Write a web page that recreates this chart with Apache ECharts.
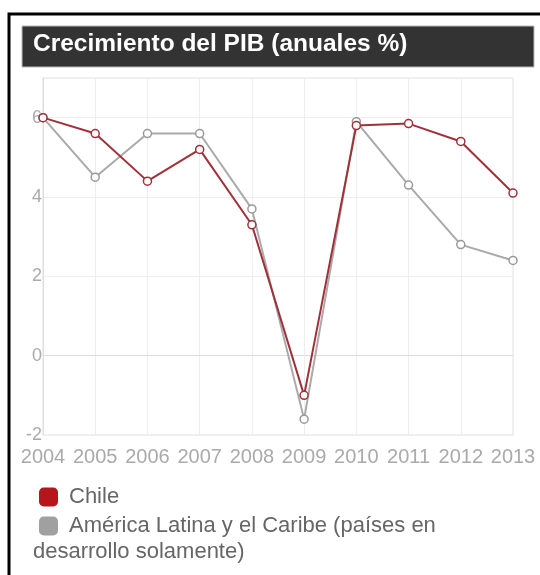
<!DOCTYPE html>
<html>
<head>
<meta charset="utf-8">
<script src="https://cdn.jsdelivr.net/npm/echarts@6/dist/echarts.min.js"></script>
<style>
html,body{margin:0;padding:0;background:#fff;}
#chart{width:540px;height:575px;}
</style>
</head>
<body>
<div id="chart"></div>
<script>
const years = ['2004','2005','2006','2007','2008','2009','2010','2011','2012','2013'];
const chile = [6.0, 5.6, 4.4, 5.2, 3.3, -1.0, 5.8, 5.85, 5.4, 4.1];
const latam = [6.0, 4.5, 5.6, 5.6, 3.7, -1.6, 5.9, 4.3, 2.8, 2.4];
const yTicks = [-2, 0, 2, 4, 6];
const titleText = 'Crecimiento del PIB (anuales %)';
const chileName = 'Chile';
const latamName = 'América Latina y el Caribe (países en desarrollo solamente)';
const latamLine1 = 'América Latina y el Caribe (países en';
const latamLine2 = 'desarrollo solamente)';

const chart = echarts.init(document.getElementById('chart'));
const FONT = 'Liberation Sans, Arial, sans-serif';
chart.setOption({
  animation: false,
  backgroundColor: '#fff',
  title: {
    text: titleText,
    left: 33, top: 32,
    padding: 0,
    textStyle: {color: '#fff', fontSize: 24.5, fontWeight: 'bold', fontFamily: FONT}
  },
  graphic: [
    {type: 'rect', z: -10, shape: {x: 9, y: 14, width: 560, height: 600},
     style: {fill: '#fff', stroke: '#000', lineWidth: 3}},
    {type: 'rect', z: -5, shape: {x: 22, y: 26, width: 512, height: 41},
     style: {fill: '#333', stroke: '#bbb', lineWidth: 1}},
    {type: 'text', left: 33, top: 541,
     style: {text: latamLine2, fill: '#666', fontSize: 22, fontFamily: FONT}}
  ],
  legend: {
    orient: 'vertical',
    left: 34, top: 481,
    itemWidth: 19, itemHeight: 19, itemGap: 7,
    icon: 'roundRect',
    textStyle: {color: '#666', fontSize: 22, fontFamily: FONT, padding: [0, 0, 0, 6]},
    formatter: function (n) { return n === latamName ? latamLine1 : n; },
    data: [
      {name: chileName, itemStyle: {color: '#b8141c', borderWidth: 0}},
      {name: latamName, itemStyle: {color: '#a0a0a0', borderWidth: 0}}
    ]
  },
  grid: {left: 43, right: 27, top: 78, bottom: 140, show: true, borderColor: '#e0e0e0', borderWidth: 1},
  xAxis: {
    type: 'category', data: years, boundaryGap: false,
    axisLine: {lineStyle: {color: '#ddd'}},
    axisTick: {show: false},
    axisLabel: {color: '#aaa', fontSize: 20, fontFamily: FONT, margin: 12, interval: 0},
    splitLine: {show: true, lineStyle: {color: '#eee'}}
  },
  yAxis: {
    type: 'value', min: -2, max: 7, interval: 2,
    axisLine: {show: true, lineStyle: {color: '#ddd'}},
    axisTick: {show: false},
    axisLabel: {color: '#aaa', fontSize: 18, fontFamily: FONT, margin: 1, showMaxLabel: false,
      formatter: function (v) { return yTicks.indexOf(v) >= 0 ? String(v) : ''; }},
    splitLine: {lineStyle: {color: '#eee'}}
  },
  series: [
    {name: chileName, type: 'line', data: chile, symbol: 'circle', symbolSize: 8,
     lineStyle: {color: '#a0303a', width: 2},
     itemStyle: {color: '#fff', borderColor: '#a0303a', borderWidth: 1.5}, z: 3},
    {name: latamName, type: 'line', data: latam, symbol: 'circle', symbolSize: 8,
     lineStyle: {color: '#aaaaaa', width: 2},
     itemStyle: {color: '#fff', borderColor: '#999', borderWidth: 1.5}, z: 2}
  ]
});
</script>
</body>
</html>
